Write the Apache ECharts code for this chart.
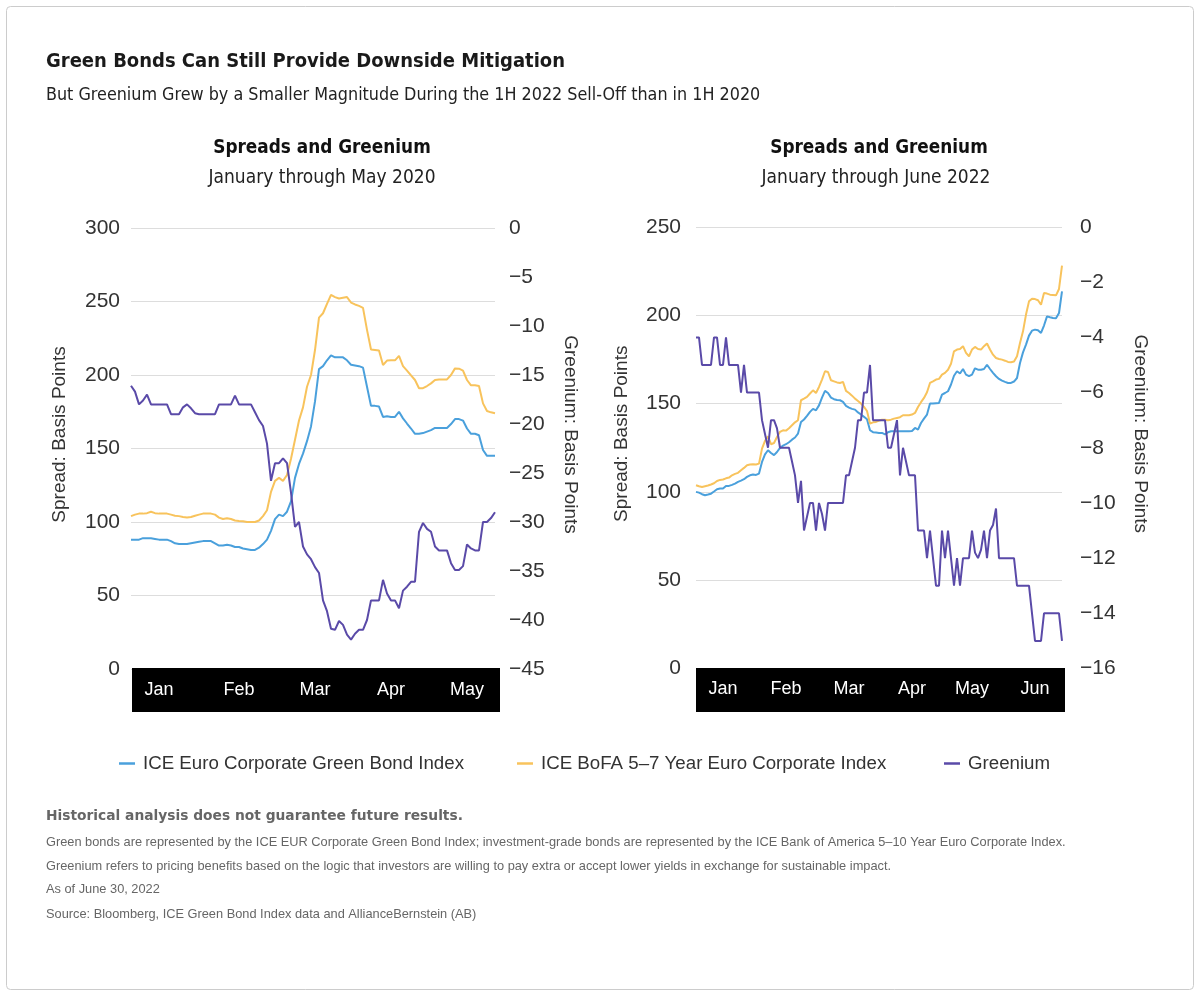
<!DOCTYPE html>
<html><head><meta charset="utf-8">
<script src="https://cdn.jsdelivr.net/npm/echarts@6/dist/echarts.min.js"></script>
<style>html,body{margin:0;padding:0;background:#fff}#c{width:1200px;height:996px}</style>
</head><body><div id="c"></div><script>
// ---------- Data: Jan–May 2020 ----------
const months2020 = ['Jan','Feb','Mar','Apr','May'];
const monthIdx2020 = [7,27,46,65,84];
const green2020 = [88,88,88,89,89,89,88.5,88,88,88,
87,85.5,85,85,85,85.5,86,86.5,87,87,
87,85.5,84,84,84.5,84,83,83,82,81.5,
81,81,82.5,85,88,94,102,105,104,107,
114,130,139.5,146.5,155,165,182,204,206,210,
213.4,212,212,212,210,207,206.5,206,205,192,
179,179,178.5,171.5,172,171.5,171.5,175,170.5,167,
163.6,160,160,160.5,161.5,162.5,164,164,164,164,
166.6,170,170,169,163.6,160,160,159,149,145,
145,145];
const bofa2020 = [104,105,105.7,105.7,106,107,106,105.7,105.7,105.7,
105,104.3,104,103.4,103,103.4,104.3,105,105.7,105.7,
105.7,105,103,102,102.5,102,101,100.7,100.5,100,
100,100,101,104,108,120.5,128,130,128,132,
143,156,169,178,192,200,217,239,242,248.4,
254.5,253,252,252.5,253,249.3,248,247,245.7,230.7,
217.3,217,216.6,206.8,209.8,210,210,213,206,203,
199.8,196.6,191,191,192.5,194.3,196.6,197,197,197,
200,204.5,204.3,203,196.6,193,193,192.5,180.7,175.5,
174.6,174];
const greenium2020 = [-16.1,-16.7,-18,-17.6,-17,-18,-18,-18,-18,-18,
-19,-19,-19,-18.3,-18,-18.4,-18.9,-19,-19,-19,
-19,-19,-18,-18,-18,-18,-17.1,-18,-18,-18,
-18,-18.8,-19.6,-20.2,-22,-25.8,-24,-24,-23.5,-24,
-27,-30.5,-30,-32.5,-33.3,-33.8,-34.6,-35.2,-38,-39.1,
-40.9,-41,-40.1,-40.5,-41.5,-42,-41.4,-41,-41,-40,
-38,-38,-38,-35.9,-37.3,-38,-38,-38.8,-37,-36.6,
-36.1,-36.1,-31,-30.1,-30.7,-31,-32.5,-32.9,-32.9,-32.9,
-34.2,-34.9,-34.9,-34.5,-32.3,-32.7,-32.9,-32.9,-30,-30,
-29.6,-29];

// ---------- Data: Jan–Jun 2022 ----------
const months2022 = ['Jan','Feb','Mar','Apr','May','Jun'];
const monthIdx2022 = [9,30,51,72,92,113];
const green2022 = [100,99.6,98.7,98.1,98.5,99,100.2,101.5,101.9,101.9,
103.4,103.4,104,104.7,105.7,106.4,107.2,108.5,109.4,109.8,
109.6,110.4,117,121.3,123.6,122,120.8,122.6,124.9,126.2,
127,128.1,129.6,130.8,133,139.6,141,143,145.3,147,
146.2,149,153.4,157.2,156,153.4,152.5,152,151.9,151,
148.7,147.7,147,146.6,145,143.8,142.5,141.1,134.9,
133.8,133.6,133.4,133.4,132.6,133.8,134.3,134.3,134.3,134.3,134.3,
134.3,134.3,134.5,136.2,135.3,139,141.5,143.8,150,150,
150.2,150.4,155.1,156,157,160.8,165.8,168.3,167,169.6,
166.4,165.5,166.4,170,169.2,169.2,169.6,172,169.6,167.4,
165.5,164,163,162.3,161.7,161.7,162.5,164.5,173,179,
183.4,188.5,191.3,191.9,191.5,190,194.2,199.4,198.9,198.5,
198.3,201.3,213.6];
const bofa2022 = [103.8,103.2,102.8,103.2,103.6,104.2,104.9,106.2,106.8,107,
107.7,108.1,109.4,110.2,110.8,112.3,113.6,115.1,115.5,115.7,
115.5,116,124.5,128.9,131.5,127,127.7,131.1,134,134.9,
134.7,136,137.7,139.4,140.6,151.9,152.8,153.8,155.7,157.5,
156,159.4,163.6,168.3,167.9,163.2,162.6,162,161.7,162.3,
157.2,156,154.5,152.8,151.5,150,148.1,145.8,138.7,
139.4,139.6,140.4,140.9,140.9,140.6,140.9,141.5,141.9,142.3,143.4,
143.4,143.4,143.8,144.7,148.1,150.8,153.2,156.4,161.7,162.6,
163.6,164,166.4,167.4,169.2,172.6,179.6,180.6,180.9,182.5,
178.7,176.8,180.6,182.1,180.9,180.6,182.5,184,180.6,177.7,
175.8,175.3,174.9,174.3,173.6,173.4,173.8,176.8,184.3,190.9,
200.4,207.9,209.4,209.2,208.5,206,212.6,212.3,211.7,211.5,
211.3,214.9,228.1];
const greenium2022 = [-4,-4,-5,-5,-5,-5,-4,-4,-5,-5,
-4,-5,-5,-5,-5,-6,-5,-6,-6,-6,
-6,-6,-7,-7.5,-8,-7,-7,-7.3,-8,-8,
-8,-8,-8.5,-9,-10,-9.2,-11,-10.5,-10,-10,
-11,-10,-10.4,-11,-10,-10,-10,-10,-10,-10,
-9,-9,-8.5,-8,-7,-7,-6,-6,-5,
-7,-7,-7,-7,-7,-8,-8,-7.5,-7,-9,-8,
-8.5,-9,-9,-9,-11,-11,-11,-12,-11,-12,
-13,-13,-11,-12,-11,-12,-13,-12,-13,-12,
-12,-12,-11,-11.8,-12,-11.7,-11,-12,-11,-10.8,
-10.2,-12,-12,-12,-12,-12,-12,-13,-13,-13,
-13,-13,-14,-15,-15,-15,-14,-14,-14,-14,
-14,-14,-15];

const seriesNames = ['ICE Euro Corporate Green Bond Index','ICE BoFA 5\u20137 Year Euro Corporate Index','Greenium'];
const colors = ['#4aa0dc','#f8c35c','#5a4aa8'];

const FN = "'Liberation Sans Narrow','DejaVu Sans Condensed','Liberation Sans',sans-serif";
const FB = "'Liberation Sans',Arial,sans-serif";

function cats(n){ const a=[]; for(let i=0;i<n;i++) a.push('d'+i); return a; }
function monthFmt(labels, idx){ return function(v,i){ const k=idx.indexOf(i); return k>=0?labels[k]:''; }; }
const neg = v => v<0 ? '\u2212'+Math.abs(v) : String(v);

const chart = echarts.init(document.getElementById('c'), null, {renderer:'canvas'});

const grids = [
  {left:131, top:228, width:364, height:441},
  {left:696, top:227, width:366, height:441.5}
];

function xAxis(gi, n, labels, idx){
  return {gridIndex:gi, type:'category', data:cats(n), boundaryGap:false, z:10,
    axisLine:{show:false}, axisTick:{show:false}, splitLine:{show:false},
    axisLabel:{interval:0, formatter:monthFmt(labels, idx), color:'#fff', fontSize:18, margin:12, fontFamily:FB}};
}
const labelStyle = {color:'#333', fontSize:21, fontFamily:FB};
const nameStyle = {color:'#333', fontSize:19, fontFamily:FB};

const option = {
  animation:false,
  backgroundColor:'#fff',
  grid: grids,
  xAxis: [xAxis(0, green2020.length, months2020, monthIdx2020), xAxis(1, green2022.length, months2022, monthIdx2022)],
  yAxis: [
    {gridIndex:0, type:'value', min:0, max:300, interval:50, position:'left',
     axisLine:{show:false}, axisTick:{show:false},
     splitLine:{lineStyle:{color:'#dddddd', width:1}},
     axisLabel:Object.assign({margin:11}, labelStyle),
     name:'Spread: Basis Points', nameLocation:'middle', nameGap:62,
     nameTextStyle:Object.assign({padding:[0,0,0,28]}, nameStyle)},
    {gridIndex:0, type:'value', min:-45, max:0, interval:5, position:'right',
     axisLine:{show:false}, axisTick:{show:false}, splitLine:{show:false},
     axisLabel:Object.assign({margin:14, formatter:neg}, labelStyle),
     name:'Greenium: Basis Points', nameLocation:'middle', nameGap:66, nameRotate:-90,
     nameTextStyle:Object.assign({padding:[0,28,0,0]}, nameStyle)},
    {gridIndex:1, type:'value', min:0, max:250, interval:50, position:'left',
     axisLine:{show:false}, axisTick:{show:false},
     splitLine:{lineStyle:{color:'#dddddd', width:1}},
     axisLabel:Object.assign({margin:15}, labelStyle),
     name:'Spread: Basis Points', nameLocation:'middle', nameGap:65,
     nameTextStyle:Object.assign({padding:[0,0,0,28]}, nameStyle)},
    {gridIndex:1, type:'value', min:-16, max:0, interval:2, position:'right',
     axisLine:{show:false}, axisTick:{show:false}, splitLine:{show:false},
     axisLabel:Object.assign({margin:18, formatter:neg}, labelStyle),
     name:'Greenium: Basis Points', nameLocation:'middle', nameGap:69, nameRotate:-90,
     nameTextStyle:Object.assign({padding:[0,28,0,0]}, nameStyle)}
  ],
  legend: [
    {data:[seriesNames[0]], left:119, top:754},
    {data:[seriesNames[1]], left:517, top:754},
    {data:[seriesNames[2]], left:944, top:754}
  ].map(l => Object.assign(l, {icon:'rect', itemWidth:16, itemHeight:2.5, padding:0, selectedMode:false,
      textStyle:{fontSize:18.7, color:'#333', fontFamily:FB, padding:[0,0,0,3]}})),
  series: [
    {name:seriesNames[0], type:'line', xAxisIndex:0, yAxisIndex:0, data:green2020},
    {name:seriesNames[1], type:'line', xAxisIndex:0, yAxisIndex:0, data:bofa2020},
    {name:seriesNames[2], type:'line', xAxisIndex:0, yAxisIndex:1, data:greenium2020},
    {name:seriesNames[0], type:'line', xAxisIndex:1, yAxisIndex:2, data:green2022},
    {name:seriesNames[1], type:'line', xAxisIndex:1, yAxisIndex:2, data:bofa2022},
    {name:seriesNames[2], type:'line', xAxisIndex:1, yAxisIndex:3, data:greenium2022}
  ].map((s,i) => Object.assign(s, {showSymbol:false, symbol:'none', color:colors[i%3],
      lineStyle:{width:2, color:colors[i%3]}, z:3+(i%3)})),
  graphic: [
    {type:'rect', z:-1, shape:{x:6.5, y:6.5, width:1187, height:983, r:4}, style:{fill:'none', stroke:'#cccccc', lineWidth:1}},
    {type:'rect', z:1, shape:{x:132, y:668, width:368, height:44}, style:{fill:'#000'}},
    {type:'rect', z:1, shape:{x:696, y:668, width:369, height:44}, style:{fill:'#000'}},
    {type:'text', x:46, y:62, style:{text:'Green Bonds Can Still Provide Downside Mitigation', font:"bold 20px "+FN, fill:'#1a1a1a', textAlign:'left', textVerticalAlign:'middle'}},
    {type:'text', x:46, y:95, style:{text:'But Greenium Grew by a Smaller Magnitude During the 1H 2022 Sell-Off than in 1H 2020', font:"17.8px "+FN, fill:'#222', textAlign:'left', textVerticalAlign:'middle'}},
    {type:'text', x:322, y:148, style:{text:'Spreads and Greenium', font:"bold 18.8px "+FN, fill:'#111', textAlign:'center', textVerticalAlign:'middle'}},
    {type:'text', x:322, y:178, style:{text:'January through May 2020', font:"19px "+FN, fill:'#222', textAlign:'center', textVerticalAlign:'middle'}},
    {type:'text', x:879, y:148, style:{text:'Spreads and Greenium', font:"bold 18.8px "+FN, fill:'#111', textAlign:'center', textVerticalAlign:'middle'}},
    {type:'text', x:876, y:178, style:{text:'January through June 2022', font:"19px "+FN, fill:'#222', textAlign:'center', textVerticalAlign:'middle'}},
    {type:'text', x:46, y:816, style:{text:'Historical analysis does not guarantee future results.', font:"bold 13.8px 'DejaVu Sans',sans-serif", fill:'#666', textAlign:'left', textVerticalAlign:'middle'}},
    {type:'text', x:46, y:842, style:{text:'Green bonds are represented by the ICE EUR Corporate Green Bond Index; investment-grade bonds are represented by the ICE Bank of America 5\u201310 Year Euro Corporate Index.', font:"12.8px "+FB, fill:'#666', textAlign:'left', textVerticalAlign:'middle'}},
    {type:'text', x:46, y:866, style:{text:'Greenium refers to pricing benefits based on the logic that investors are willing to pay extra or accept lower yields in exchange for sustainable impact.', font:"12.8px "+FB, fill:'#666', textAlign:'left', textVerticalAlign:'middle'}},
    {type:'text', x:46, y:889, style:{text:'As of June 30, 2022', font:"12.8px "+FB, fill:'#666', textAlign:'left', textVerticalAlign:'middle'}},
    {type:'text', x:46, y:914, style:{text:'Source: Bloomberg, ICE Green Bond Index data and AllianceBernstein (AB)', font:"12.8px "+FB, fill:'#666', textAlign:'left', textVerticalAlign:'middle'}}
  ]
};
chart.setOption(option);
</script></body></html>
